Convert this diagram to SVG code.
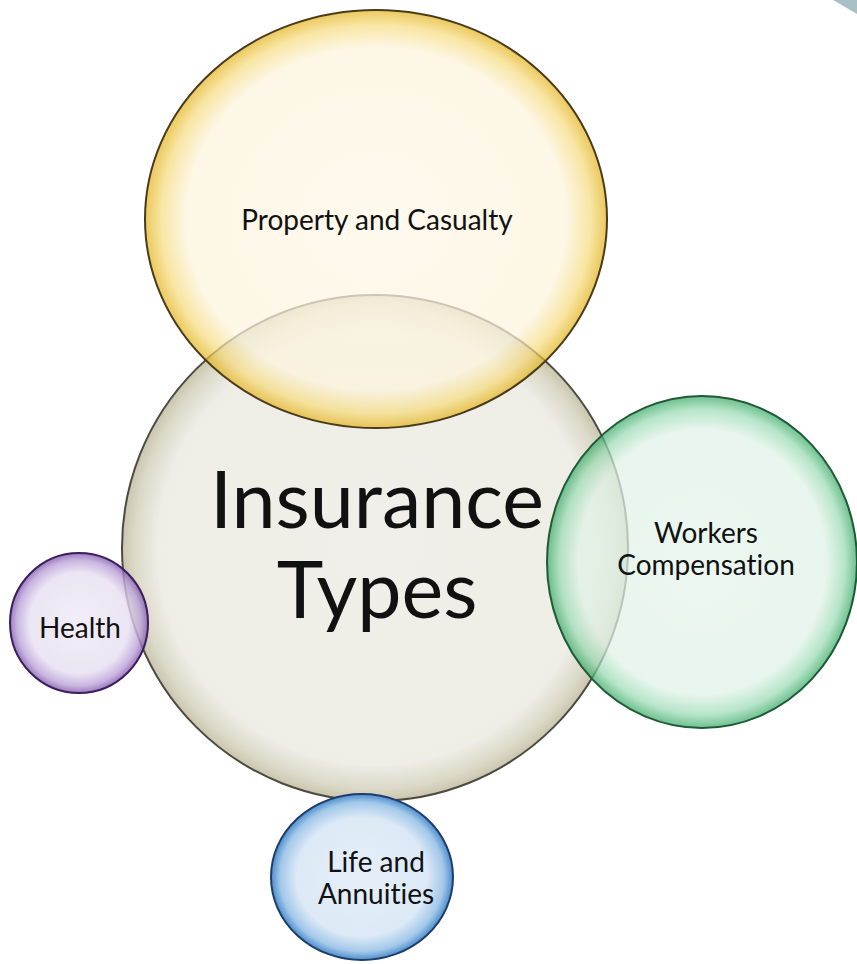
<svg xmlns="http://www.w3.org/2000/svg" width="857" height="964" viewBox="0 0 857 964">
<style>
text{font-family:Lato,"Open Sans","Liberation Sans",sans-serif;fill:#111;text-anchor:middle;font-variant-ligatures:none;font-feature-settings:"liga" 0}
.s{font-size:28px}
.big{font-size:79px}
</style>
<defs>
<radialGradient id="gMain" cx="50%" cy="50%" r="50%">
<stop offset="0" stop-color="#f0efe9"/><stop offset="0.86" stop-color="#eeede6"/><stop offset="0.95" stop-color="#dcd9c8"/><stop offset="1" stop-color="#c9c5ae"/>
</radialGradient>
<radialGradient id="gY" cx="50%" cy="50%" r="50%">
<stop offset="0" stop-color="#fdf7e6"/><stop offset="0.82" stop-color="#fcf4dd"/><stop offset="0.93" stop-color="#f6dc80"/><stop offset="1" stop-color="#e3b31e"/>
</radialGradient>
<radialGradient id="gG" cx="50%" cy="50%" r="50%">
<stop offset="0" stop-color="#e4f4ea"/><stop offset="0.8" stop-color="#dff2e6"/><stop offset="0.92" stop-color="#9adbb3"/><stop offset="1" stop-color="#36a864"/>
</radialGradient>
<radialGradient id="gP" cx="50%" cy="50%" r="50%">
<stop offset="0" stop-color="#efeaf6"/><stop offset="0.72" stop-color="#e7dff1"/><stop offset="0.9" stop-color="#bba2d8"/><stop offset="1" stop-color="#8458ad"/>
</radialGradient>
<radialGradient id="gB" cx="50%" cy="50%" r="50%">
<stop offset="0" stop-color="#e5eff9"/><stop offset="0.72" stop-color="#dce9f6"/><stop offset="0.9" stop-color="#a3c8ea"/><stop offset="1" stop-color="#4c8dcc"/>
</radialGradient>
</defs>
<path d="M833 0 L857 0 L857 14 Q845 7 833 0 Z" fill="#a9bfc6"/>
<g id="main">
<ellipse cx="375" cy="548" rx="253" ry="253" fill="url(#gMain)" stroke="#4d4a40" stroke-width="2"/>
<text class="big" x="377" y="528">Insurance</text>
<text class="big" x="377" y="618">Types</text>
</g>
<g id="property">
<ellipse cx="376" cy="219" rx="231" ry="209" fill="url(#gY)" fill-opacity="0.72" stroke="#4a3a1c" stroke-width="2"/>
<text class="s" x="377" y="230">Property and Casualty</text>
</g>
<g id="workers">
<ellipse cx="702" cy="562" rx="155" ry="166" fill="url(#gG)" fill-opacity="0.72" stroke="#1f5a36" stroke-width="2"/>
<text class="s" x="706" y="543">Workers</text>
<text class="s" x="706" y="575">Compensation</text>
</g>
<g id="health">
<ellipse cx="79" cy="623" rx="69" ry="70" fill="url(#gP)" fill-opacity="0.8" stroke="#3a1f5c" stroke-width="2"/>
<text class="s" x="80" y="638">Health</text>
</g>
<g id="life">
<ellipse cx="362" cy="877" rx="91" ry="83" fill="url(#gB)" stroke="#1f3d6b" stroke-width="2"/>
<text class="s" x="376" y="872">Life and</text>
<text class="s" x="376" y="904">Annuities</text>
</g>
<g id="connectors"/>
</svg>
